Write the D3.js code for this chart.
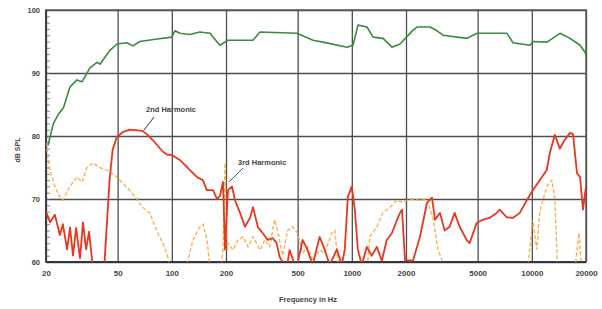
<!DOCTYPE html>
<html>
<head>
<meta charset="utf-8">
<script src="https://cdnjs.cloudflare.com/ajax/libs/d3/7.8.5/d3.min.js"></script>
<style>
  body { margin: 0; background: #fff; }
  text { font-family: "Liberation Sans", Arial, sans-serif; fill: #444; }
</style>
</head>
<body>
<script>
// response curve (green)
var greenFreq = [20.5,22,23.5,25,27.2,29.7,31.7,35.1,38.4,39.9,45.3,49.6,56.4,60.8,66.5,82.7,100,104,111,126,143,163,185,205,282,309,496,608,692,940,1016,1082,1214,1312,1491,1672,1853,2188,2303,2718,2973,3213,4364,4960,7280,7860,9774,10160,12140,14350,16300,18530,19750,20000];
var greenDb = [78.5,82,83.5,84.5,87.8,88.9,88.6,90.8,91.7,91.4,93.6,94.6,94.8,94.3,95,95.4,95.7,96.7,96.3,96.1,96.5,96.3,94.4,95.2,95.2,96.5,96.3,95.2,94.9,94.1,94.4,97.6,97.3,95.7,95.5,94.1,94.6,96.8,97.3,97.3,96.7,96,95.5,96.3,96.3,94.8,94.4,95,94.9,96.3,95.5,94.4,93.3,92.8];

// 2nd harmonic (red)
var redFreq = [20,21.05,22.4,23.9,24.8,26.2,27.2,28.25,29.4,30.9,32.1,33.4,34.7,36,36.5,40,42.3,45.1,46.9,49.4,53.3,58.3,68.8,72.5,78.2,89.1,95,100,110.8,125.9,137.7,148.7,156.4,169.4,178.3,185.2,192.5,197.5,205.2,216,224.4,239.2,255,271.8,282.5,301,319.7,340.6,363.2,382.2,397.2,434.3,451.3,469,493.6,533,568,605.8,662.5,706,753,825.4,880,914,950,1000,1039,1080,1136,1211,1291,1377,1468,1564,1672,1783,1852,1900,1975,2187,2392,2616,2789,2900,3089,3278,3495,3726,3972,4344,4513,4936,5330,5830,6375,6625,7264,7843,8577,9380,10130,11080,12115,12589,13420,14307,15251,16300,16937,17825,18522,19250,20000];
var redDb = [68,66.3,67.5,64.3,66,62,65.5,61,65.4,60.6,66.3,62,64.8,60.5,58,52,60,73,77.8,79.8,80.6,81,80.8,80.3,79.4,77.5,77,77,76.2,74.6,73.5,73,71.4,71.4,70,70.5,72.7,62,71.4,72,69.8,67.8,65.6,67,68.7,65.5,64.6,63.5,63.8,63,60.8,59,61.9,60.5,59,63.5,61.9,59.5,64,62,59.5,62,59.5,62,70.3,72,68.3,62,59.5,62.4,61,62.4,60.2,63.5,64.6,66.7,67.8,68.3,60.3,60.2,64,69.4,70.2,66.7,67.8,65,65.6,67.8,65.6,63.5,63,66.2,66.7,67,67.8,68.3,67.1,67,67.8,69.8,71.4,73,74.6,77.3,80.2,78,79.4,80.5,80.3,74.1,73.5,68.3,72];

// 3rd harmonic (orange)
var orangeFreq = [20,20.5,21.05,22.4,23.9,24.8,27.2,29.7,31.7,33.8,36.5,39.7,43.4,48.1,52.6,58.3,64.6,68.8,75.3,82.5,89.1,93.8,97.5,110.8,131.1,143.4,149,156.9,163,180.5,192.5,197.5,202.6,205.2,218.7,233.2,248.6,265,282.5,308.9,327.8,349.5,372.6,387.1,412.7,440,469,500,533,568,606,662.5,706,774.3,805,836,880,1181,1259,1377,1487,1630,1783,1900,2105,2392,2616,2825,3012,3197,3726,9140,10130,10660,11080,12115,12915,13420,13944,17200,18300,19000,20000];
var orangeDb = [79,76.5,74.6,72,70.3,69.8,72,73.5,72.7,75,75.7,75,74.6,73.8,72.7,71.4,69.8,68.7,67.8,65,63,61.4,59.5,55,63.5,65.6,66,63.5,59,55,62,75.7,62,63,61.9,63.5,64,62.4,64,61.9,63.5,62.4,66.7,65,61,65,65.6,64.6,61.4,62.4,60.2,61.9,61.4,64.6,65,60,55,55,64,65.6,67.8,68.7,69.8,69.5,70,69.8,70,67,62,60,55,55,66.7,62,68,72,73,70,58,58,64.6,58,56];

var xTicks = [20,50,100,200,500,1000,2000,5000,10000,20000];
var yTicks = [60,70,80,90,100];

var width = 602, height = 309;
var plotL = 46, plotR = 586, plotT = 10, plotB = 262;

var x = d3.scaleLog().domain([20, 20000]).range([plotL, plotR]);
var y = d3.scaleLinear().domain([60, 100]).range([plotB, plotT]);

var svg = d3.select('body').append('svg')
            .attr('width', width)
            .attr('height', height);

svg.append('clipPath').attr('id', 'plot')
   .append('rect')
   .attr('x', plotL).attr('y', plotT)
   .attr('width', plotR - plotL).attr('height', plotB - plotT);

// grid
var xAxis = d3.axisBottom(x).tickValues(xTicks).tickFormat(d3.format('d'))
              .tickSize(-(plotB - plotT)).tickPadding(8);
var yAxis = d3.axisLeft(y).tickValues(yTicks).tickSize(-(plotR - plotL)).tickPadding(6);

svg.append('g').attr('class', 'x-axis')
   .attr('transform', 'translate(0,' + plotB + ')').call(customXAxis);
svg.append('g').attr('class', 'y-axis')
   .attr('transform', 'translate(' + plotL + ',0)').call(customYAxis);

// minor ticks every dB, inside the left edge
svg.append('g')
   .attr('transform', 'translate(' + plotL + ',0)')
   .call(d3.axisRight(y).ticks(40).tickSize(4).tickFormat(''))
   .call(function(g){
     g.select('.domain').remove();
     g.selectAll('.tick line').attr('stroke', '#666').attr('stroke-width', 0.8);
   });

// frame
svg.append('rect')
   .attr('x', plotL).attr('y', plotT)
   .attr('width', plotR - plotL).attr('height', plotB - plotT)
   .attr('fill', 'none').attr('stroke', '#555').attr('stroke-width', 1.4);
svg.append('line')
   .attr('x1', plotL).attr('x2', plotR).attr('y1', plotB).attr('y2', plotB)
   .attr('stroke', '#2f3644').attr('stroke-width', 2.2);
svg.append('line')
   .attr('x1', plotL).attr('x2', plotL).attr('y1', plotT).attr('y2', plotB)
   .attr('stroke', '#3a3f48').attr('stroke-width', 2);

var line = d3.line()
             .x(function(d){ return x(d[0]); })
             .y(function(d){ return y(d[1]); });

var curves = svg.append('g').attr('clip-path', 'url(#plot)');

curves.append('path')
      .attr('d', line(d3.zip(orangeFreq, orangeDb)))
      .attr('fill', 'none').attr('stroke', '#f3a43c')
      .attr('stroke-width', 1.4).attr('stroke-dasharray', '4,2')
      .attr('opacity', 0.85);
curves.append('path')
      .attr('d', line(d3.zip(redFreq, redDb)))
      .attr('fill', 'none').attr('stroke', '#e8361f')
      .attr('stroke-width', 1.8).attr('stroke-linejoin', 'round');
curves.append('path')
      .attr('d', line(d3.zip(greenFreq, greenDb)))
      .attr('fill', 'none').attr('stroke', '#3b8a3e')
      .attr('stroke-width', 1.6).attr('stroke-linejoin', 'round');

// annotations
svg.append('text').attr('x', 146).attr('y', 112)
   .attr('font-size', 7.5).attr('font-weight', 'bold').text('2nd Harmonic');
svg.append('line').attr('x1', 154).attr('y1', 117).attr('x2', 144).attr('y2', 130)
   .attr('stroke', '#333').attr('stroke-width', 1);
svg.append('text').attr('x', 238).attr('y', 165)
   .attr('font-size', 7.5).attr('font-weight', 'bold').text('3rd Harmonic');
svg.append('line').attr('x1', 243).attr('y1', 168).attr('x2', 229).attr('y2', 182)
   .attr('stroke', '#2f5c6a').attr('stroke-width', 1);

// axis titles
svg.append('text')
   .attr('transform', 'translate(20,150) rotate(-90)')
   .attr('text-anchor', 'middle').attr('font-size', 7).attr('font-weight', 'bold')
   .text('dB SPL');
svg.append('text')
   .attr('x', 308).attr('y', 302)
   .attr('text-anchor', 'middle').attr('font-size', 7.5).attr('font-weight', 'bold')
   .text('Frequency in Hz');

function customXAxis(g) {
  g.call(xAxis);
  g.select('.domain').remove();
  g.selectAll('.tick line').attr('stroke', '#4d4d4d').attr('stroke-width', 1.3);
  g.selectAll('.tick text').attr('font-size', 8).attr('font-weight', 'bold').attr('fill', '#444');
}

function customYAxis(g) {
  g.call(yAxis);
  g.select('.domain').remove();
  g.selectAll('.tick line').attr('stroke', '#4d4d4d').attr('stroke-width', 1.3);
  g.selectAll('.tick text').attr('font-size', 7.5).attr('font-weight', 'bold').attr('fill', '#444');
}
</script>
</body>
</html>
